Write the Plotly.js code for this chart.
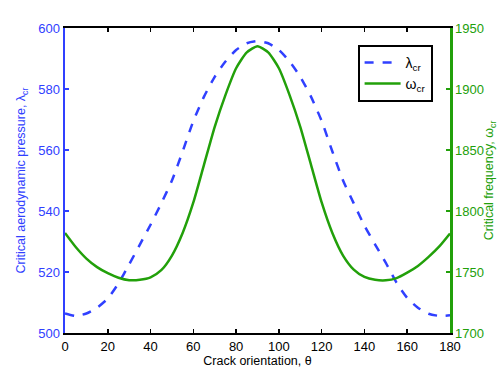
<!DOCTYPE html>
<html>
<head>
<meta charset="utf-8">
<script src="https://cdn.plot.ly/plotly-3.0.1.min.js"></script>
<style>
  html, body { margin: 0; padding: 0; background: #fff; }
  #chart { width: 498px; height: 375px; }
</style>
</head>
<body>
<div id="chart"></div>
<script>
var theta = [0,5,10,15,20,25,30,35,40,45,50,55,60,65,70,75,80,85,90,
             95,100,105,110,115,120,125,130,135,140,145,150,155,160,165,170,175,180];

var lambdaCr = [506.4,505.6,506.4,508.3,511.3,516.3,522.5,529,535.5,542.5,550,559.5,569.5,577.5,584,589,592.8,595,595.7,
                595,592.8,589,584,577.5,569.5,559.5,550,542.5,535.2,529,523,516.5,511.5,508.3,506.3,505.6,505.8];

var omegaCr = [1782,1770.5,1761,1754,1749,1745.3,1743.3,1743.6,1745.6,1751.5,1763.5,1782,1807,1838,1869,1895,1917,1930,1935,
               1930,1917,1895,1869,1838,1807,1782,1763.5,1752,1746,1743.6,1743.2,1745,1749.5,1755,1762.4,1771,1781.6];

var blue = 'rgb(48,64,255)';
var green = 'rgb(34,160,10)';

var trace1 = {
  x: theta,
  y: lambdaCr,
  mode: 'lines',
  name: '\u03bb<sub>cr</sub>',
  line: { color: blue, width: 2.5, dash: 'dash', shape: 'spline', smoothing: 0.6 },
  yaxis: 'y'
};

var trace2 = {
  x: theta,
  y: omegaCr,
  mode: 'lines',
  name: '\u03c9<sub>cr</sub>',
  line: { color: green, width: 2.5, shape: 'spline', smoothing: 0.6 },
  yaxis: 'y2'
};

var layout = {
  width: 498,
  height: 375,
  margin: { l: 65, r: 48, t: 28, b: 42 },
  paper_bgcolor: '#fff',
  plot_bgcolor: '#fff',
  font: { family: 'Liberation Sans, Arial, sans-serif', size: 13, color: '#000' },
  showlegend: true,
  legend: {
    x: 0.76, y: 0.945, xanchor: 'left', yanchor: 'top',
    bordercolor: '#000', borderwidth: 2, bgcolor: '#fff',
    itemwidth: 36,
    font: { size: 14 }
  },
  xaxis: {
    range: [0, 180],
    tickvals: [0,20,40,60,80,100,120,140,160,180],
    ticks: 'inside', ticklen: 4, tickwidth: 1.5, tickcolor: '#000',
    showline: true, linecolor: '#000', linewidth: 2, mirror: 'ticks',
    showgrid: false, zeroline: false,
    tickfont: { size: 13, color: '#000' },
    title: { text: 'Crack orientation, \u03b8', font: { size: 12.5, color: '#000' }, standoff: 4 }
  },
  yaxis: {
    range: [500, 600],
    tickvals: [500,520,540,560,580,600],
    ticks: 'inside', ticklen: 4, tickwidth: 1.5, tickcolor: blue,
    showline: true, linecolor: blue, linewidth: 2.5,
    showgrid: false, zeroline: false,
    tickfont: { size: 13, color: blue },
    title: { text: 'Critical aerodynamic pressure, \u03bb<sub>cr</sub>', font: { size: 12.5, color: blue }, standoff: 10 }
  },
  yaxis2: {
    range: [1700, 1950],
    tickvals: [1700,1750,1800,1850,1900,1950],
    overlaying: 'y', side: 'right',
    ticks: 'inside', ticklen: 4, tickwidth: 1.5, tickcolor: green,
    showline: true, linecolor: green, linewidth: 2.5,
    showgrid: false, zeroline: false,
    tickfont: { size: 13, color: green },
    title: { text: 'Critical frequency, \u03c9<sub>cr</sub>', font: { size: 12.5, color: green }, standoff: 4 }
  }
};

Plotly.newPlot('chart', [trace1, trace2], layout, { displayModeBar: false, staticPlot: true });
</script>
</body>
</html>
